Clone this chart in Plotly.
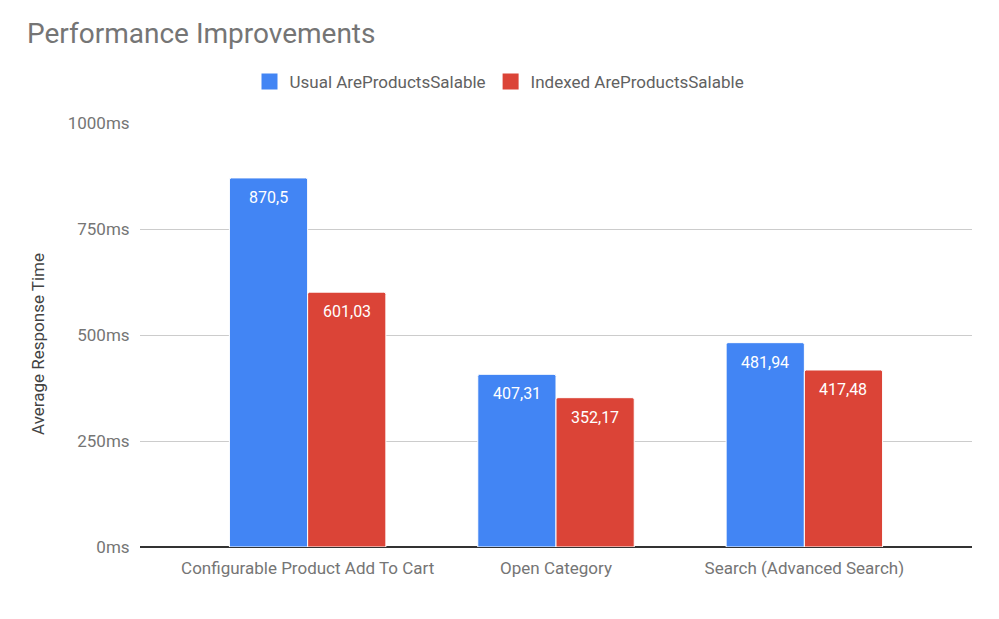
import plotly.graph_objects as go

categories = ["Configurable Product Add To Cart", "Open Category", "Search (Advanced Search)"]
usual = [870.5, 407.31, 481.94]
indexed = [601.03, 352.17, 417.48]
usual_labels = ["870,5", "407,31", "481,94"]
indexed_labels = ["601,03", "352,17", "417,48"]
series_names = ["Usual AreProductsSalable", "Indexed AreProductsSalable"]
series_colors = ["#4285F4", "#DB4437"]
tick_vals = [0, 250, 500, 750, 1000]
tick_text = ["0ms", "250ms", "500ms", "750ms", "1000ms"]

FONT = "Roboto, Arial, sans-serif"
BARGAP = 0.37
W, H = 999, 619
ML, MR, MT, MB = 140, 27, 123, 72
XRANGE = [-0.675, 2.675]

fig = go.Figure()
for vals, name, color in zip([usual, indexed], series_names, series_colors):
    fig.add_trace(go.Bar(
        x=categories, y=vals, name=name, showlegend=False,
        marker=dict(color=color, cornerradius=2, line=dict(color="white", width=1)),
        hoverinfo="x+y",
    ))
    # legend proxies with square symbols
    fig.add_trace(go.Scatter(
        x=[None], y=[None], mode="markers", name=name,
        marker=dict(symbol="square", size=16, color=color),
    ))

# data labels placed just under the top of each bar
plot_w = W - ML - MR
px_per_cat = plot_w / (XRANGE[1] - XRANGE[0])
bar_w_px = px_per_cat * (1 - BARGAP) / 2
for vals, labels, sign in [(usual, usual_labels, -1), (indexed, indexed_labels, 1)]:
    for cat, v, lab in zip(categories, vals, labels):
        fig.add_annotation(
            x=cat, y=v, xref="x", yref="y", text=lab, showarrow=False,
            xshift=sign * bar_w_px / 2, yshift=-8, yanchor="top", xanchor="center",
            font=dict(color="white", size=16, family=FONT),
        )

# y axis title (as annotation to match placement)
fig.add_annotation(
    text="Average Response Time", textangle=-90, showarrow=False,
    xref="paper", yref="paper", x=(38 - ML) / plot_w, xanchor="center",
    y=(H - MB - 344) / (H - MT - MB), yanchor="middle",
    font=dict(size=17, color="#424242", family=FONT),
)

fig.update_layout(
    width=W, height=H,
    paper_bgcolor="white", plot_bgcolor="white",
    font=dict(family=FONT, color="#757575", size=17),
    title=dict(text="Performance Improvements", x=0.027, xanchor="left",
               y=1 - 33 / H, yanchor="middle",
               font=dict(size=28, color="#757575", family=FONT)),
    legend=dict(orientation="h", x=0.5, xanchor="center", xref="container",
                y=1 - 82 / H, yanchor="middle",
                yref="container", font=dict(size=17, color="#616161")),
    margin=dict(l=ML, r=MR, t=MT, b=MB),
    barmode="group", bargap=BARGAP, bargroupgap=0.0,
    xaxis=dict(range=XRANGE, showgrid=False, showline=False, ticks="outside",
               ticklen=6, tickcolor="rgba(0,0,0,0)",
               tickfont=dict(size=17, color="#757575")),
    yaxis=dict(range=[0, 1000], tickvals=tick_vals, ticktext=tick_text,
               showgrid=True, gridcolor="#CCCCCC", gridwidth=1,
               zeroline=True, zerolinecolor="#333333", zerolinewidth=1.5,
               ticks="outside", ticklen=6, tickcolor="rgba(0,0,0,0)",
               tickfont=dict(size=17, color="#757575")),
)

fig.write_html("out.html", config={"displayModeBar": False},
               post_script="document.body.style.margin='0px';")
